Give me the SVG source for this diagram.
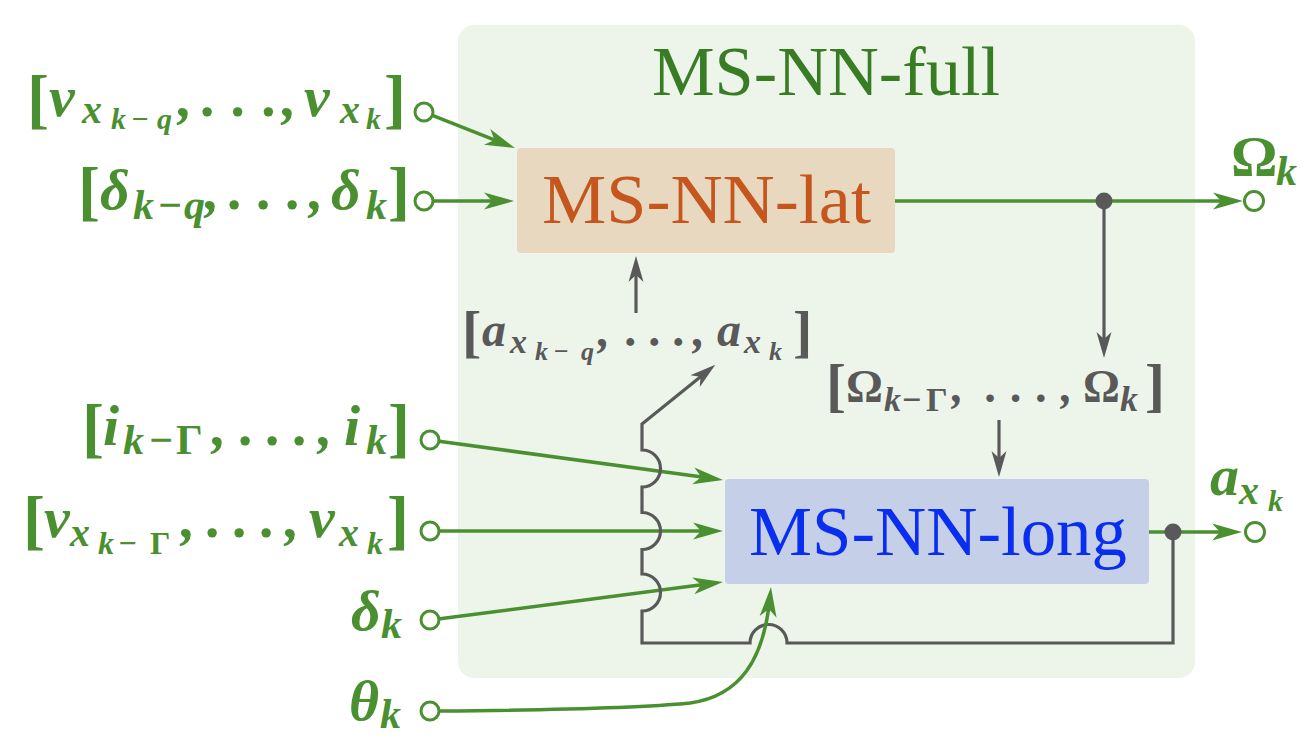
<svg xmlns="http://www.w3.org/2000/svg" width="1306" height="746" viewBox="0 0 1306 746">
<style>
.m{font-family:"Liberation Serif","Times New Roman",serif;font-weight:bold;font-style:italic}
.g{fill:#4a9030}
.gr{fill:#595959}
.up{font-style:normal}
.ttl{font-family:"Liberation Serif","Times New Roman",serif}
.gl{fill:none;stroke:#4a9030;stroke-width:3.5}
.gy{fill:none;stroke:#595959;stroke-width:3.2}
.port{fill:#ffffff;stroke:#4a9030;stroke-width:3}
</style>
<defs>
<marker id="ag" markerUnits="userSpaceOnUse" viewBox="-22 -10 34 20" refX="0" refY="0" markerWidth="34" markerHeight="20" orient="auto"><path d="M10,0 L-20,-8.5 L-12,0 L-20,8.5 Z" fill="#4a9030"/></marker>
<marker id="ay" markerUnits="userSpaceOnUse" viewBox="-18 -9 28 18" refX="0" refY="0" markerWidth="28" markerHeight="18" orient="auto"><path d="M9,0 L-17,-7.5 L-10,0 L-17,7.5 Z" fill="#595959"/></marker>
</defs>

<g id="full">
<rect x="458" y="25" width="737" height="653" rx="16" fill="#edf5ea"/>
<text class="ttl" x="652" y="95" font-size="70" textLength="348" lengthAdjust="spacingAndGlyphs" fill="#387d24">MS-NN-full</text>
</g>

<g id="lat">
<rect x="517" y="148" width="378" height="105" rx="4" fill="#e8d8bf"/>
<text class="ttl" x="542" y="223" font-size="70" textLength="329" lengthAdjust="spacingAndGlyphs" fill="#c4561e">MS-NN-lat</text>
</g>

<g id="long">
<rect x="725" y="479" width="424" height="105" rx="4" fill="#c5d0e8"/>
<text class="ttl" x="749" y="555" font-size="70" textLength="378" lengthAdjust="spacingAndGlyphs" fill="#0a2ef0">MS-NN-long</text>
</g>

<g id="connectors">
<path class="gl" d="M432.4,115.3 L505.7,144.3" marker-end="url(#ag)"/>
<path class="gl" d="M433,201 L504,201" marker-end="url(#ag)"/>
<path class="gl" d="M895,201 L1233,201" marker-end="url(#ag)"/>
<path class="gy" d="M1104,201 L1104,349" marker-end="url(#ay)"/>
<path class="gy" d="M636,313 L636,265" marker-end="url(#ay)"/>
<path class="gy" d="M999,420 L999,468" marker-end="url(#ay)"/>
<path class="gl" d="M439,441.2 L713.1,478.6" marker-end="url(#ag)"/>
<path class="gl" d="M440,531 L713,531" marker-end="url(#ag)"/>
<path class="gl" d="M439.9,618.8 L713.1,583.3" marker-end="url(#ag)"/>
<path class="gl" d="M1149,532 L1232,532" marker-end="url(#ag)"/>
<path class="gy" d="M1173,532 L1173,643 L787,643 A18.5,18.5 0 0 0 750,643 L642,643 L642,611 A18.5,18.5 0 0 0 642,574 L642,549.5 A18.5,18.5 0 0 0 642,512.5 L642,487 A18.5,18.5 0 0 0 642,450 L642,424 L708.3,370.4" marker-end="url(#ay)"/>
<path class="gl" d="M440,711 C560,710 640,708 690,703 C740,696 764,660 770,597" marker-end="url(#ag)"/>
<circle cx="1104" cy="201" r="8.5" fill="#595959"/>
<circle cx="1173" cy="532" r="8.5" fill="#595959"/>
</g>

<g id="in_vq">
<circle class="port" cx="424" cy="112" r="9"/>
<text class="m g" font-size="58"><tspan class="up" x="27" y="121" font-size="66">[</tspan><tspan x="49" y="116">v</tspan><tspan x="82" y="123" font-size="40">x</tspan><tspan x="111" y="129" font-size="30">k</tspan><tspan x="131" y="129" font-size="30">−</tspan><tspan x="157" y="129" font-size="30">q</tspan><tspan x="178" y="116">,</tspan><tspan x="202" y="116" letter-spacing="0.8">. . .</tspan><tspan x="282" y="116">,</tspan><tspan x="304" y="116">v</tspan><tspan x="340" y="123" font-size="40">x</tspan><tspan x="366" y="129" font-size="30">k</tspan><tspan class="up" x="384" y="121" font-size="66">]</tspan></text>
</g>

<g id="in_dq">
<circle class="port" cx="424" cy="201" r="9"/>
<text class="m g" font-size="58"><tspan class="up" x="78" y="213" font-size="66">[</tspan><tspan x="100" y="209">δ</tspan><tspan x="133" y="219" font-size="42">k</tspan><tspan x="157" y="219" font-size="42">−</tspan><tspan x="184" y="219" font-size="42">q</tspan><tspan x="205" y="209">,</tspan><tspan x="229" y="209">. . .</tspan><tspan x="309" y="209">,</tspan><tspan x="331" y="209">δ</tspan><tspan x="366" y="219" font-size="42">k</tspan><tspan class="up" x="388" y="213" font-size="66">]</tspan></text>
</g>

<g id="out_omega">
<circle class="port" cx="1254" cy="201" r="9.5"/>
<text class="m g" font-size="58"><tspan class="up" x="1231" y="176">Ω</tspan><tspan x="1276" y="185" font-size="42">k</tspan></text>
</g>

<g id="lbl_a">
<text class="m gr" font-size="48"><tspan class="up" x="462" y="351" font-size="58">[</tspan><tspan x="482" y="346">a</tspan><tspan x="510" y="353" font-size="34">x</tspan><tspan x="535" y="360" font-size="26">k</tspan><tspan x="553" y="360" font-size="26">−</tspan><tspan x="581" y="360" font-size="26">q</tspan><tspan x="598" y="346">,</tspan><tspan x="626" y="346">. . .</tspan><tspan x="693" y="346">,</tspan><tspan x="717" y="346">a</tspan><tspan x="744" y="353" font-size="34">x</tspan><tspan x="769" y="360" font-size="26">k</tspan><tspan class="up" x="793" y="351" font-size="58">]</tspan></text>
</g>

<g id="lbl_omega">
<text class="m gr" font-size="46"><tspan class="up" x="826" y="405" font-size="60">[</tspan><tspan class="up" x="846" y="402">Ω</tspan><tspan x="884" y="411" font-size="34">k</tspan><tspan x="901" y="411" font-size="34">−</tspan><tspan class="up" x="926" y="411" font-size="34">Γ</tspan><tspan x="952" y="402">,</tspan><tspan x="986" y="402" letter-spacing="1.2">. . .</tspan><tspan x="1061" y="402">,</tspan><tspan class="up" x="1083" y="402">Ω</tspan><tspan x="1120" y="411" font-size="36">k</tspan><tspan class="up" x="1145" y="405" font-size="60">]</tspan></text>
</g>

<g id="in_i">
<circle class="port" cx="430" cy="440" r="9"/>
<text class="m g" font-size="58"><tspan class="up" x="82" y="450" font-size="66">[</tspan><tspan x="103" y="445">i</tspan><tspan x="123" y="454" font-size="42">k</tspan><tspan x="148" y="454" font-size="42">−</tspan><tspan class="up" x="176" y="454" font-size="42">Γ</tspan><tspan x="212" y="445">,</tspan><tspan x="240" y="445" letter-spacing="-1">. . .</tspan><tspan x="318" y="445">,</tspan><tspan x="344" y="445">i</tspan><tspan x="366" y="454" font-size="42">k</tspan><tspan class="up" x="388" y="450" font-size="66">]</tspan></text>
</g>

<g id="in_vG">
<circle class="port" cx="430" cy="531" r="9"/>
<text class="m g" font-size="58"><tspan class="up" x="23" y="542" font-size="66">[</tspan><tspan x="44" y="537">v</tspan><tspan x="70" y="546" font-size="40">x</tspan><tspan x="98" y="554" font-size="32">k</tspan><tspan x="118" y="554" font-size="32">−</tspan><tspan class="up" x="150" y="554" font-size="32">Γ</tspan><tspan x="181" y="537">,</tspan><tspan x="207" y="537" letter-spacing="-1">. . .</tspan><tspan x="285" y="537">,</tspan><tspan x="309" y="537">v</tspan><tspan x="339" y="546" font-size="40">x</tspan><tspan x="367" y="554" font-size="32">k</tspan><tspan class="up" x="387" y="542" font-size="66">]</tspan></text>
</g>

<g id="in_delta">
<circle class="port" cx="430" cy="620" r="9"/>
<text class="m g" font-size="58"><tspan x="351" y="630">δ</tspan><tspan x="381" y="638" font-size="42">k</tspan></text>
</g>

<g id="in_theta">
<circle class="port" cx="430" cy="711" r="9"/>
<text class="m g" font-size="58"><tspan x="349" y="720">θ</tspan><tspan x="380" y="728" font-size="42">k</tspan></text>
</g>

<g id="out_a">
<circle class="port" cx="1255" cy="532" r="9.5"/>
<text class="m g" font-size="58"><tspan x="1210" y="495">a</tspan><tspan x="1239" y="504" font-size="40">x</tspan><tspan x="1268" y="511" font-size="30">k</tspan></text>
</g>
</svg>
